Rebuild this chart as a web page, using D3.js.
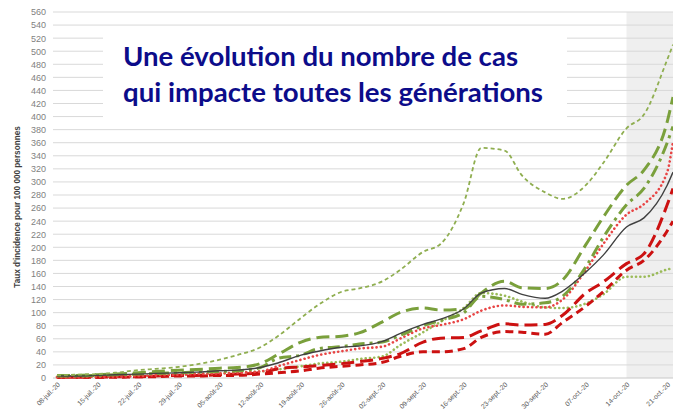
<!DOCTYPE html>
<html><head><meta charset="utf-8">
<script src="https://cdn.jsdelivr.net/npm/d3@7"></script>
<style>body{margin:0;background:#fff}svg{display:block}</style>
</head><body>
<svg id="c" width="673" height="411"></svg>
<script>
const dates = ["2020-07-08","2020-07-11","2020-07-15","2020-07-18","2020-07-22","2020-07-25","2020-07-29","2020-08-01","2020-08-05","2020-08-08","2020-08-12","2020-08-15","2020-08-19","2020-08-22","2020-08-26","2020-08-29","2020-09-02","2020-09-05","2020-09-09","2020-09-12","2020-09-16","2020-09-19","2020-09-23","2020-09-26","2020-09-30","2020-10-03","2020-10-07","2020-10-10","2020-10-14","2020-10-17","2020-10-21","2020-10-22"];
const tickDates = ["2020-07-08","2020-07-15","2020-07-22","2020-07-29","2020-08-05","2020-08-12","2020-08-19","2020-08-26","2020-09-02","2020-09-09","2020-09-16","2020-09-23","2020-09-30","2020-10-07","2020-10-14","2020-10-21"];
const tickLabels = ["08-juil.-20","15-juil.-20","22-juil.-20","29-juil.-20","05-août-20","12-août-20","19-août-20","26-août-20","02-sept.-20","09-sept.-20","16-sept.-20","23-sept.-20","30-sept.-20","07-oct.-20","14-oct.-20","21-oct.-20"];
const yTicks = d3.range(0, 561, 20);
const shadeStart = "2020-10-14";
const titleLines = ["Une évolution du nombre de cas","qui impacte toutes les générations"];
const yTitle = "Taux d'incidence pour 100 000 personnes";

const serA = [4,5,6,8,12,14,17,21,28,35,47,64,92,112,132,137,148,165,193,205,268,352,348,310,284,274,295,329,382,403,487,510];
const serB = [3,3,4,5,6,7,8,9,11,12,16,23,35,41,47,49,56,68,82,90,106,130,137,128,122,133,162,188,231,245,295,315];
const serC = [4,4,5,6,8,10,12,13,15,16,22,36,55,62,64,69,86,100,107,104,106,130,148,138,137,150,204,246,295,318,392,430];
const serD = [3,3,4,5,6,7,8,9,10,11,16,30,35,45,48,52,55,65,80,88,100,125,120,113,115,125,170,215,265,290,360,385];
const serE = [2,2,2,3,3,4,5,6,7,8,10,13,18,22,25,29,33,50,70,86,107,130,126,117,108,107,114,128,155,155,166,168];
const serF = [1,1,2,2,3,4,5,6,7,8,10,18,28,35,41,45,48,60,76,81,90,103,111,109,108,120,165,205,250,266,315,362];
const serG = [1,1,1,2,2,3,4,4,5,6,8,14,17,19,22,25,30,37,55,61,62,72,83,81,82,96,130,147,175,190,265,290];
const serH = [1,1,1,1,2,2,3,3,4,4,6,8,11,15,18,20,24,33,40,40,45,62,71,70,67,85,110,132,165,180,225,240];

const parse = d3.timeParse("%Y-%m-%d");
const svg = d3.select("#c");
const x = d3.scaleTime().domain([parse("2020-07-08"), parse("2020-10-22")]).range([57, 673]);
const y = d3.scaleLinear().domain([0, 560]).range([378, 12]);

// shaded forecast area
svg.append("rect").attr("x", x(parse(shadeStart))).attr("y", y(560))
  .attr("width", 673 - x(parse(shadeStart))).attr("height", y(0) - y(560)).attr("fill", "#efefef");

// grid
svg.append("g").selectAll("line").data(yTicks.filter(d => d > 0)).join("line")
  .attr("x1", 53).attr("x2", 673).attr("y1", d => y(d)).attr("y2", d => y(d))
  .attr("stroke", "#d9d9d9").attr("stroke-width", 1);
svg.append("line").attr("x1", 53).attr("x2", 673).attr("y1", y(0)).attr("y2", y(0))
  .attr("stroke", "#c8c8c8").attr("stroke-width", 1);

// y axis
const yAxis = d3.axisLeft(y).tickValues(yTicks).tickSize(0).tickPadding(0);
const gy = svg.append("g").attr("transform", "translate(46,0)").call(yAxis);
gy.select(".domain").remove();
gy.selectAll("text").attr("font-family", "Liberation Sans, Arial, sans-serif").attr("font-size", 9).attr("fill", "#7f7f7f");

// x axis
const xAxis = d3.axisBottom(x).tickValues(tickDates.map(parse)).tickSize(0)
  .tickFormat((d, i) => tickLabels[i]);
const gx = svg.append("g").attr("transform", `translate(0,${y(0)})`).call(xAxis);
gx.select(".domain").remove();
gx.selectAll("text").attr("font-family", "Liberation Sans, Arial, sans-serif").attr("font-size", 6.8)
  .attr("fill", "#595959").attr("text-anchor", "end").attr("dy", null).attr("y", 0)
  .attr("transform", "translate(3,7) rotate(-45)");

// y title
svg.append("text").attr("transform", `translate(20,207) rotate(-90)`).attr("text-anchor", "middle")
  .attr("font-family", "Liberation Sans, Arial, sans-serif").attr("font-weight", "bold")
  .attr("font-size", 8.2).attr("fill", "#404040").text(yTitle);

// title box
svg.append("rect").attr("x", 103).attr("y", 30).attr("width", 464).attr("height", 93).attr("fill", "#fff");
svg.append("g").selectAll("text").data(titleLines).join("text")
  .attr("x", 123).attr("y", (d, i) => 66 + i * 36)
  .attr("font-family", "Lato, 'Open Sans', sans-serif").attr("font-weight", "bold")
  .attr("font-size", 26).attr("fill", "#0c0c8a")
  .attr("textLength", (d, i) => i === 0 ? 395 : 420).attr("lengthAdjust", "spacingAndGlyphs")
  .text(d => d);

const series = [
  {v: serE, color: "#9bbb59", w: 2.6, dash: "0.1,4.2", cap: "round"},
  {v: serH, color: "#cc1111", w: 3, dash: "8,5", cap: "butt"},
  {v: serG, color: "#cc1111", w: 3, dash: "13,6", cap: "butt"},
  {v: serF, color: "#e84545", w: 2.6, dash: "0.1,4.2", cap: "round"},
  {v: serD, color: "#7aa03c", w: 3, dash: "12,5,3,5", cap: "butt"},
  {v: serC, color: "#7aa03c", w: 3, dash: "13,6", cap: "butt"},
  {v: serB, color: "#404040", w: 1.4, dash: null, cap: "butt"},
  {v: serA, color: "#8fae50", w: 1.8, dash: "4,3", cap: "butt"}
];
const line = d3.line().x((d, i) => x(parse(dates[i]))).y(d => y(d)).curve(d3.curveMonotoneX);
svg.append("g").selectAll("path").data(series).join("path")
  .attr("d", s => line(s.v)).attr("fill", "none")
  .attr("stroke", s => s.color).attr("stroke-width", s => s.w)
  .attr("stroke-dasharray", s => s.dash).attr("stroke-linecap", s => s.cap);
</script>
</body></html>
